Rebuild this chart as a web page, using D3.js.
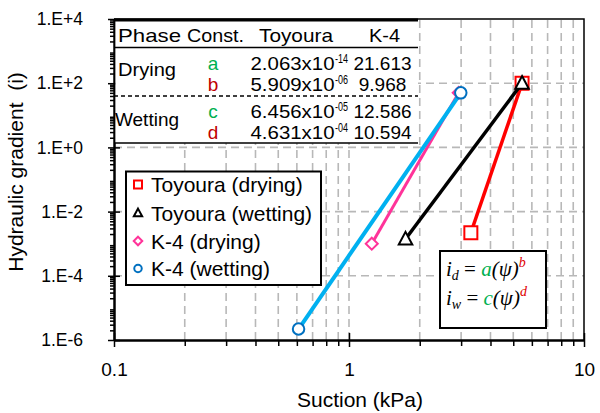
<!DOCTYPE html>
<html>
<head>
<meta charset="utf-8">
<script src="https://cdn.jsdelivr.net/npm/d3@7"></script>
<style>
  html, body { margin: 0; padding: 0; background: #fff; }
  svg { display: block; font-family: "Liberation Sans", Arial, sans-serif; }
</style>
</head>
<body>
<svg id="chart" width="600" height="413"></svg>
<script>
// Suction (kPa) vs. hydraulic gradient, end points of each fitted line
const seriesNames = ["Toyoura (drying)", "Toyoura (wetting)", "K-4 (drying)", "K-4 (wetting)"];
const toyouraDryingSuction = [3.30, 5.45];
const toyouraDryingGradient = [2.2e-3, 100];
const toyouraWettingSuction = [1.74, 5.45];
const toyouraWettingGradient = [1.4e-3, 100];
const k4DryingSuction = [1.25, 2.93];
const k4DryingGradient = [1.0e-3, 50];
const k4WettingSuction = [0.61, 2.99];
const k4WettingGradient = [2.2e-6, 50];

const xTickValues = [0.1, 1, 10];
const yTickValues = [1e-6, 1e-4, 1e-2, 1, 1e2, 1e4];

// Fitted constants table
const phaseLabels = ["Drying", "Wetting"];
const constLabels = ["a", "b", "c", "d"];
const toyouraMantissa = ["2.063", "5.909", "6.456", "4.631"];
const toyouraExponent = ["-14", "-06", "-05", "-04"];
const k4Values = ["21.613", "9.968", "12.586", "10.594"];

const GREEN = "#00B050", DARKRED = "#C00000";

const svg = d3.select("#chart");
const L = 114, R = 584, T = 19, B = 340;

const x = d3.scaleLog().domain([0.1, 10]).range([L, R]);
const y = d3.scaleLog().domain([1e-6, 1e4]).range([B, T]);

// minor tick positions (2..9 within each decade)
const xMinor = [];
for (let e = -1; e < 1; e++) for (let m = 2; m <= 9; m++) xMinor.push(m * Math.pow(10, e));
const yMinor = [];
for (let e = -6; e < 4; e++) for (let m = 2; m <= 9; m++) yMinor.push(m * Math.pow(10, e));
const yMajorGrid = yTickValues.filter(v => v > 1e-6 && v < 1e4);
const xGrid = xMinor.concat([1]);

// ---- grid ----
const grid = svg.append("g")
  .attr("stroke", "#B8B8B8").attr("stroke-width", 1.6).attr("stroke-dasharray", "8,5");
grid.selectAll("line.v").data(xGrid).join("line")
  .attr("x1", d => x(d)).attr("x2", d => x(d)).attr("y1", B).attr("y2", T);
grid.selectAll("line.h").data(yMajorGrid).join("line")
  .attr("x1", L).attr("x2", R).attr("y1", d => y(d)).attr("y2", d => y(d));

// ---- frame (top and right) ----
svg.append("path")
  .attr("d", `M${L},${T}H${R}V${B}`)
  .attr("fill", "none").attr("stroke", "#000").attr("stroke-width", 1.5);

// ---- series ----
const series = [
  { name: seriesNames[0], xs: toyouraDryingSuction, ys: toyouraDryingGradient, line: "#FF0000", lw: 3.5, mk: "#FF0000", shape: "square" },
  { name: seriesNames[1], xs: toyouraWettingSuction, ys: toyouraWettingGradient, line: "#000000", lw: 3.5, mk: "#000000", shape: "triangle" },
  { name: seriesNames[2], xs: k4DryingSuction, ys: k4DryingGradient, line: "#FF3399", lw: 3, mk: "#FF3399", shape: "diamond" },
  { name: seriesNames[3], xs: k4WettingSuction, ys: k4WettingGradient, line: "#00B0F0", lw: 4, mk: "#0070C0", shape: "circle" }
];

function markerPath(shape, s) {
  if (shape === "square") return d3.symbol(d3.symbolSquare, s * s)();
  if (shape === "triangle") return `M0,${-s * 0.55}L${s * 0.52},${s * 0.42}L${-s * 0.52},${s * 0.42}Z`;
  if (shape === "diamond") return `M0,${-s / 2}L${s / 2},0L0,${s / 2}L${-s / 2},0Z`;
  return d3.symbol(d3.symbolCircle, Math.PI * (s / 2) * (s / 2))();
}
const plotSize = { square: 13, triangle: 13, diamond: 12, circle: 11.5 };
const legendSize = { square: 8, triangle: 8, diamond: 8.5, circle: 7.5 };

const line = d3.line().x(d => x(d[0])).y(d => y(d[1]));
series.forEach(s => {
  const pts = s.xs.map((v, i) => [v, s.ys[i]]);
  const g = svg.append("g");
  g.append("path").datum(pts).attr("d", line)
    .attr("fill", "none").attr("stroke", s.line).attr("stroke-width", s.lw);
  g.selectAll("path.m").data(pts).join("path")
    .attr("transform", d => `translate(${x(d[0])},${y(d[1])})`)
    .attr("d", markerPath(s.shape, plotSize[s.shape]))
    .attr("fill", "#fff").attr("stroke", s.mk).attr("stroke-width", 2);
});

// ---- axes ----
const xAxisG = svg.append("g").attr("transform", `translate(0,${B})`)
  .call(d3.axisBottom(x).tickValues(xTickValues).tickFormat(d => String(d)).tickSize(7).tickSizeOuter(0));
svg.append("g").attr("transform", `translate(0,${B})`)
  .call(d3.axisTop(x).tickValues(xTickValues).tickFormat("").tickSize(7).tickSizeOuter(0))
  .select(".domain").remove();
svg.append("g").attr("transform", `translate(0,${B})`)
  .call(d3.axisBottom(x).tickValues(xMinor).tickFormat("").tickSize(6).tickSizeOuter(0))
  .select(".domain").remove();

const yAxisG = svg.append("g").attr("transform", `translate(${L},0)`)
  .call(d3.axisLeft(y).tickValues(yTickValues)
    .tickFormat(d => { const e = Math.round(Math.log10(d)); return "1.E" + (e >= 0 ? "+" : "") + e; })
    .tickSize(6).tickPadding(25).tickSizeOuter(0));
svg.append("g").attr("transform", `translate(${L},0)`)
  .call(d3.axisRight(y).tickValues(yTickValues).tickFormat("").tickSize(6).tickSizeOuter(0))
  .select(".domain").remove();
svg.append("g").attr("transform", `translate(${L},0)`)
  .call(d3.axisLeft(y).tickValues(yMinor).tickFormat("").tickSize(4).tickSizeOuter(0))
  .select(".domain").remove();

svg.selectAll(".tick line").attr("stroke", "#000").attr("stroke-width", 1.5);
xAxisG.select(".domain").attr("stroke", "#000").attr("stroke-width", 2.5);
yAxisG.select(".domain").attr("stroke", "#000").attr("stroke-width", 2.5);
xAxisG.selectAll("text").attr("y", 36).attr("dy", 0)
  .attr("font-size", 19).attr("font-family", "Liberation Sans, Arial, sans-serif").attr("fill", "#000");
yAxisG.selectAll("text")
  .attr("font-size", 17.5).attr("font-family", "Liberation Sans, Arial, sans-serif").attr("fill", "#000");

// axis titles
svg.append("text").attr("x", 360).attr("y", 407).attr("text-anchor", "middle")
  .attr("font-size", 21).text("Suction (kPa)");
svg.append("text").attr("transform", "translate(23,172) rotate(-90)").attr("text-anchor", "middle")
  .attr("font-size", 21).style("white-space", "pre").text("Hydraulic gradient  (i)");

// ---- constants table ----
const tbl = svg.append("g");
tbl.append("rect").attr("x", L + 1.5).attr("y", T).attr("width", 418 - L - 1.5).attr("height", 143 - T).attr("fill", "#fff");
tbl.append("line").attr("x1", L).attr("x2", 418).attr("y1", 20).attr("y2", 20).attr("stroke", "#000").attr("stroke-width", 3);
tbl.append("line").attr("x1", L).attr("x2", 418).attr("y1", 47.5).attr("y2", 47.5).attr("stroke", "#000").attr("stroke-width", 1.5);
tbl.append("line").attr("x1", L).attr("x2", 418).attr("y1", 96).attr("y2", 96).attr("stroke", "#000").attr("stroke-width", 1.5).attr("stroke-dasharray", "4,3");
tbl.append("line").attr("x1", L).attr("x2", 418).attr("y1", 143).attr("y2", 143).attr("stroke", "#000").attr("stroke-width", 1.5);

function tText(str, xx, yy, width, opts = {}) {
  const t = tbl.append("text").attr("x", xx).attr("y", yy).attr("font-size", opts.size || 19)
    .attr("fill", opts.fill || "#000").attr("text-anchor", opts.anchor || "start").text(str);
  if (width) t.attr("textLength", width).attr("lengthAdjust", "spacingAndGlyphs");
  return t;
}
tText("Phase", 118, 42, 63);
tText("Const.", 187, 42, 57);
tText("Toyoura", 259, 42, 74);
tText("K-4", 369, 42, 31);

const phaseY = [76, 126];
const phaseW = [58, 64];
const phaseX = [118, 115];
phaseLabels.forEach((p, i) => tText(p, phaseX[i], phaseY[i], phaseW[i]));

const rowY = [69.5, 91, 118, 138.5];
constLabels.forEach((c, i) => {
  tText(c, 213, rowY[i], null, { anchor: "middle", fill: i % 2 === 0 ? GREEN : DARKRED });
  tText(toyouraMantissa[i] + "x10", 250.5, rowY[i], 84);
  tText(toyouraExponent[i], 335, rowY[i] - 7, 13, { size: 12 });
  tText(k4Values[i], 382.5, rowY[i], null, { anchor: "middle" });
});

// ---- legend ----
const lg = svg.append("g");
lg.append("rect").attr("x", 126).attr("y", 171.5).attr("width", 195).attr("height", 113.5)
  .attr("fill", "#fff").attr("stroke", "#000").attr("stroke-width", 2);
const legendY = [184.5, 213, 241, 268.5];
series.forEach((s, i) => {
  lg.append("path").attr("transform", `translate(138,${legendY[i]})`)
    .attr("d", markerPath(s.shape, legendSize[s.shape]))
    .attr("fill", "#fff").attr("stroke", s.mk).attr("stroke-width", 2);
  lg.append("text").attr("x", 151).attr("y", legendY[i]).attr("dy", "0.36em")
    .attr("font-size", 21).text(s.name);
});

// ---- equation box ----
const eq = svg.append("g");
eq.append("rect").attr("x", 440).attr("y", 251).attr("width", 106).attr("height", 77)
  .attr("fill", "#fff").attr("stroke", "#000").attr("stroke-width", 2);
const eqLines = [["d", "a", "b", 276], ["w", "c", "d", 305]];
eqLines.forEach(([sub, coef, pow, yy]) => {
  const t = eq.append("text").attr("x", 446).attr("y", yy)
    .attr("font-family", "Liberation Serif, 'DejaVu Serif', serif").attr("font-style", "italic")
    .attr("font-size", 21).style("white-space", "pre");
  t.append("tspan").text("i");
  t.append("tspan").attr("dy", 4).attr("font-size", 14).text(sub);
  t.append("tspan").attr("dy", -4).attr("font-style", "normal").text(" = ");
  t.append("tspan").attr("fill", GREEN).text(coef);
  t.append("tspan").text("(ψ)");
  t.append("tspan").attr("dy", -9).attr("font-size", 14).attr("fill", "#E00000").text(pow);
});
</script>
</body>
</html>
